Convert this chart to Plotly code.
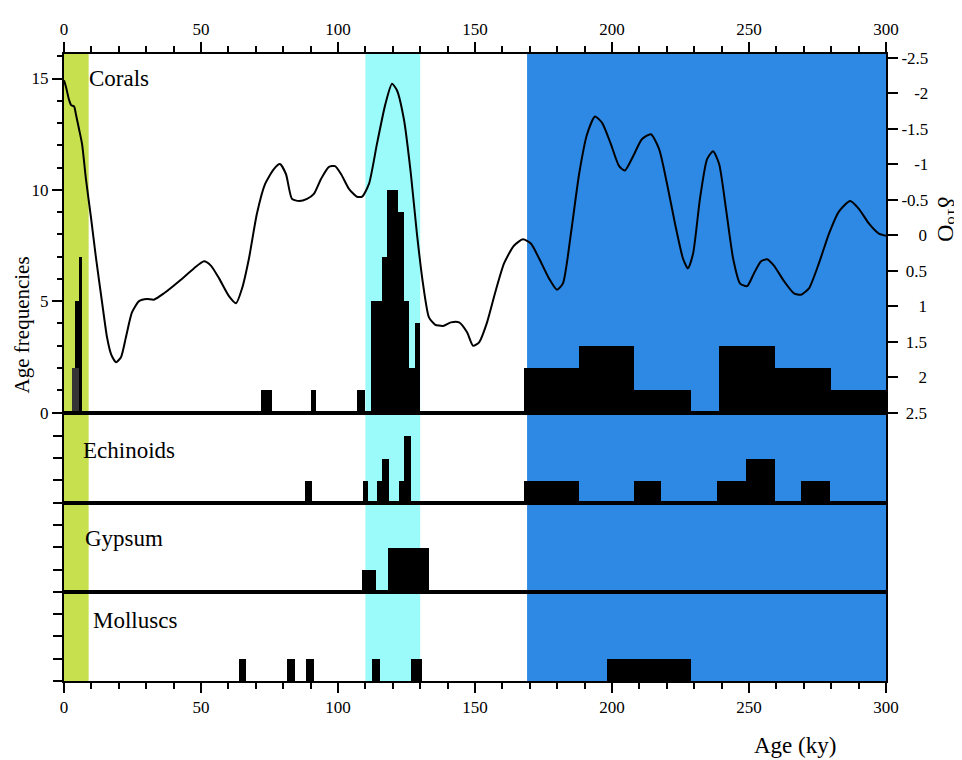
import plotly.graph_objects as go

# ---------------- data ----------------
curve_age = [0, 0.7, 1.8, 2.6, 3.7, 4.4, 5.5, 6.6, 8.0, 9.9, 11.7, 13.9, 15.7, 17.2, 19.0,
             20.8, 22.6, 24.8, 27.4, 30.3, 32.8, 36.5, 42.0, 47.4, 51.1, 53.6, 56.6, 60.2,
             62.8, 65.0, 67.5, 70.4, 73.4, 76.6, 78.8, 81.0, 83.2, 85.8, 88.7, 91.2, 93.8,
             96.7, 98.9, 101.1, 104.0, 106.9, 108.8, 111.3, 114.2, 117.2, 119.7, 121.5,
             124.1, 126.6, 128.8, 131.0, 133.2, 135.4, 138.3, 141.2, 144.2, 147.1, 149.3,
             151.5, 154.4, 157.3, 160.6, 164.2, 167.5, 170.4, 173.4, 177.0, 179.9, 182.1,
             185.0, 188.0, 190.9, 193.8, 196.4, 199.6, 202.6, 204.7, 207.7, 210.9, 214.2,
             217.2, 220.1, 223.0, 225.9, 227.7, 229.6, 232.1, 234.7, 236.9, 239.1, 241.6,
             244.2, 246.7, 249.3, 251.8, 254.4, 256.6, 259.1, 262.8, 266.4, 269.0, 271.9,
             275.5, 279.2, 282.8, 286.9, 290.1, 293.8, 297.4, 300.0]
curve_d18o = [-2.18, -2.09, -1.91, -1.83, -1.81, -1.69, -1.49, -1.28, -0.79, -0.23, 0.33, 0.95,
              1.44, 1.68, 1.79, 1.72, 1.44, 1.09, 0.93, 0.90, 0.91, 0.82, 0.65, 0.47, 0.37,
              0.43, 0.61, 0.86, 0.96, 0.75, 0.33, -0.30, -0.72, -0.93, -1.00, -0.86, -0.51,
              -0.48, -0.51, -0.58, -0.79, -0.96, -0.97, -0.86, -0.65, -0.54, -0.54, -0.72,
              -1.28, -1.83, -2.13, -2.04, -1.62, -0.86, -0.02, 0.68, 1.16, 1.26, 1.28, 1.23,
              1.23, 1.37, 1.56, 1.51, 1.23, 0.82, 0.40, 0.15, 0.06, 0.12, 0.33, 0.61, 0.77,
              0.68, -0.02, -0.86, -1.42, -1.67, -1.58, -1.28, -0.97, -0.91, -1.11, -1.35,
              -1.42, -1.21, -0.72, -0.16, 0.33, 0.47, 0.26, -0.51, -1.07, -1.18, -1.00,
              -0.37, 0.33, 0.68, 0.72, 0.54, 0.37, 0.34, 0.43, 0.65, 0.82, 0.84, 0.75, 0.40,
              -0.02, -0.33, -0.48, -0.37, -0.16, -0.02, 0.01]

coral_left = [4.1, 5.3, 72, 90, 107, 112, 116, 118, 122, 124, 126, 128,
              168, 188, 208, 239, 259.5, 280]
coral_right = [5.3, 6.6, 76, 92, 110, 116, 118, 122, 124, 126, 128, 130,
               188, 208, 229, 259.5, 280, 300]
coral_count = [5, 7, 1, 1, 1, 5, 7, 10, 9, 5, 2, 4, 2, 3, 1, 3, 2, 1]
coral_grey_left = [3.0]
coral_grey_right = [5.3]
coral_grey_count = [2]

echi_left = [88, 109, 114.2, 116.2, 122.3, 124.2, 168, 208, 238.3, 249, 269]
echi_right = [90.5, 111, 116.8, 118.6, 124.2, 126.6, 188, 218, 249, 259.5, 279.6]
echi_count = [1, 1, 1, 2, 1, 3, 1, 1, 1, 2, 1]

gyp_left = [108.8, 118.2]
gyp_right = [113.9, 133.2]
gyp_count = [1, 2]

moll_left = [63.9, 81.4, 88.3, 112.4, 126.6, 198]
moll_right = [66.4, 84.3, 91.2, 115.3, 130.7, 229]
moll_count = [1, 1, 1, 1, 1, 1]

periods = [(0, 9, "#c6e04e"), (110, 130, "#9bfbfa"), (169, 300, "#2e89e5")]
panel_names = ["Corals", "Echinoids", "Gypsum", "Molluscs"]
d18o_ticks = [-2.5, -2, -1.5, -1, -0.5, 0, 0.5, 1, 1.5, 2, 2.5]
d18o_labels = ["-2.5", "-2", "-1.5", "-1", "-0.5", "0", "0.5", "1", "1.5", "2", "2.5"]

# ---------------- figure ----------------
FONT = "Liberation Serif"
fig = go.Figure()


def bars(left, right, count, xa, ya, color="black"):
    fig.add_trace(go.Bar(
        x=[(l + r) / 2 for l, r in zip(left, right)],
        width=[r - l for l, r in zip(left, right)],
        y=count, xaxis=xa, yaxis=ya,
        marker=dict(color=color, line=dict(width=0)),
        showlegend=False, hoverinfo="skip"))


bars(coral_left, coral_right, coral_count, "x", "y")
bars(coral_grey_left, coral_grey_right, coral_grey_count, "x", "y", "#353535")
bars(echi_left, echi_right, echi_count, "x2", "y2")
bars(gyp_left, gyp_right, gyp_count, "x3", "y3")
bars(moll_left, moll_right, moll_count, "x4", "y4")

fig.add_trace(go.Scatter(x=curve_age, y=curve_d18o, xaxis="x", yaxis="y5",
                         mode="lines", line=dict(color="black", width=2, shape="spline",
                                                 smoothing=0.6),
                         showlegend=False, hoverinfo="skip"))


def right_align(label):
    # pad on the left with figure / punctuation spaces so labels line up on the right
    pad = ""
    if "." not in label:
        pad += "\u2008\u2007"
    if not label.startswith("-"):
        pad += "\u2008"
    return pad + label


# page offset (body margin) of 8 px is compensated in the margins
H = 633.0
PW = 822.0
def dom(top_px, bot_px):
    return [(681 - bot_px) / H, (681 - top_px) / H]

d_cor = dom(48, 410)
d_ech = dom(410, 501)
d_gyp = dom(501, 591)
d_mol = dom(591, 681)

tickfont = dict(family=FONT, size=17, color="black")
xcommon = dict(range=[0, 300], showgrid=False, zeroline=False, showline=True,
               linecolor="black", linewidth=2, mirror=True)

fig.update_layout(
    width=954, height=752,
    margin=dict(l=56, r=76, t=40, b=79),
    paper_bgcolor="white", plot_bgcolor="white",
    barmode="overlay", bargap=0,
    font=dict(family=FONT, color="black"),
    xaxis=dict(**xcommon, anchor="y", side="top", ticks="outside", ticklen=10,
               tickwidth=2, tickcolor="black", dtick=50, tick0=0, tickfont=tickfont,
               minor=dict(dtick=10, ticks="outside", ticklen=6, tickwidth=1.5,
                          tickcolor="black")),
    xaxis2=dict(**xcommon, anchor="y2", showticklabels=False, ticks=""),
    xaxis3=dict(**xcommon, anchor="y3", showticklabels=False, ticks=""),
    xaxis4=dict(**xcommon, anchor="y4", side="bottom", ticks="outside", ticklen=10,
                tickwidth=2, tickcolor="black", dtick=50, tick0=0, tickfont=tickfont,
                minor=dict(dtick=10, ticks="outside", ticklen=6, tickwidth=1.5,
                           tickcolor="black")),
    yaxis=dict(domain=d_cor, range=[0, 16.1], anchor="x", showgrid=False, zeroline=False,
               showline=True, linecolor="black", linewidth=2, ticks="outside",
               ticklen=10, tickwidth=2, tickcolor="black", dtick=5, tick0=0,
               tickfont=tickfont,
               minor=dict(dtick=1, ticks="outside", ticklen=5, tickwidth=1.5,
                          tickcolor="black")),
    yaxis5=dict(range=[2.5, -2.55], anchor="x", overlaying="y", side="right",
                showgrid=False, zeroline=False, showline=True, linecolor="black",
                linewidth=2, ticks="outside", ticklen=10, tickwidth=2,
                tickcolor="black", tickvals=d18o_ticks,
                ticktext=[right_align(t) for t in d18o_labels],
                tickfont=tickfont),
)
for name, d, top in (("yaxis2", d_ech, 4.04), ("yaxis3", d_gyp, 4.0), ("yaxis4", d_mol, 4.0)):
    xa = "x" + name[-1]
    fig.layout[name] = dict(domain=d, range=[0, top], anchor=xa, showgrid=False,
                            zeroline=False, showline=True, linecolor="black", linewidth=2,
                            mirror=True, ticks="outside", ticklen=9, tickwidth=1.5,
                            tickcolor="black", tickvals=[0, 1, 2, 3],
                            showticklabels=False)

for x0, x1, col in periods:
    fig.add_shape(type="rect", xref="x", yref="paper", x0=x0, x1=x1, y0=0, y1=1,
                  fillcolor=col, line=dict(width=0), layer="below")

label_pos = [(8.4, (681 - 73) / H), (6.2, (681 - 448) / H), (6.9, (681 - 537) / H),
             (9.9, (681 - 620) / H)]
for name, (lx, ly) in zip(panel_names, label_pos):
    fig.add_annotation(text=name, xref="x", yref="paper", x=lx, y=ly, xanchor="left",
                       yanchor="middle", showarrow=False,
                       font=dict(family=FONT, size=23, color="black"))

fig.add_annotation(text="Age frequencies", xref="paper", yref="paper",
                   x=(22 - 64) / PW, y=(681 - 322) / H, textangle=-90, showarrow=False,
                   xanchor="center", yanchor="middle",
                   font=dict(family=FONT, size=21, color="black"))
fig.add_annotation(text="δ<sup>18</sup>O", xref="paper", yref="paper",
                   x=(948 - 64) / PW, y=(681 - 214) / H, textangle=90, showarrow=False,
                   xanchor="center", yanchor="middle",
                   font=dict(family=FONT, size=24, color="black"))
fig.add_annotation(text="Age (ky)", xref="paper", yref="paper",
                   x=(795 - 64) / PW, y=(681 - 746) / H, showarrow=False,
                   xanchor="center", yanchor="middle",
                   font=dict(family=FONT, size=23, color="black"))

fig.write_html("out.html")
